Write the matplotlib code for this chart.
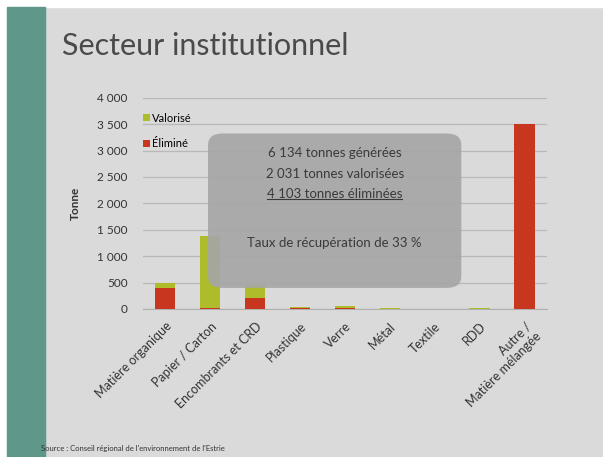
import matplotlib.pyplot as plt
import numpy as np
from matplotlib.patches import Rectangle, FancyBboxPatch

# values (tonnes)
categories = ["Matière organique", "Papier / Carton", "Encombrants et CRD", "Plastique",
              "Verre", "Métal", "Textile", "RDD", "Autre /\nMatière mélangée"]
elimine = [390, 20, 200, 10, 15, 8, 3, 5, 3510]
valorise = [100, 1360, 250, 25, 40, 15, 2, 5, 0]
yticks = [0, 500, 1000, 1500, 2000, 2500, 3000, 3500, 4000]
ytick_labels = ["0", "500", "1 000", "1 500", "2 000", "2 500", "3 000", "3 500", "4 000"]
box_lines = ["6 134 tonnes générées", "2 031 tonnes valorisées", "4 103 tonnes éliminées"]
box_rate = "Taux de récupération de 33 %"

plt.rcParams['font.family'] = ['Lato', 'DejaVu Sans']

fig = plt.figure(figsize=(6.03, 4.57), dpi=100)
fig.patch.set_facecolor('#dadada')

# slide decoration: white frame edge + teal band on the left
fig.patches.append(Rectangle((0, 0.985), 1, 0.015, transform=fig.transFigure,
                             color='white', zorder=0))
fig.patches.append(Rectangle((0, 0), 0.012, 1, transform=fig.transFigure,
                             color='white', zorder=0))
fig.patches.append(Rectangle((0.012, 0), 0.063, 0.985, transform=fig.transFigure,
                             color='#5f978a', zorder=0))

fig.text(0.103, 0.9, "Secteur institutionnel", fontsize=22, color='#4a4a4a',
         va='center', ha='left')
fig.text(0.068, 0.01, "Source : Conseil régional de l'environnement de l'Estrie",
         fontsize=5.5, color='#333333', va='bottom')

ax = fig.add_axes([0.237, 0.324, 0.67, 0.462])
ax.set_facecolor('none')

x = np.arange(len(categories))
ax.bar(x, elimine, width=0.45, color='#c8361f', label='Éliminé', zorder=3)
ax.bar(x, valorise, width=0.45, bottom=elimine, color='#aebb2a', label='Valorisé', zorder=3)

ax.set_xlim(-0.5, len(categories) - 0.5)
ax.set_ylim(0, 4000)
ax.set_yticks(yticks)
ax.set_yticklabels(ytick_labels, fontsize=8.5, color='#333333')
ax.set_xticks(x)
ax.set_xticklabels(categories, rotation=45, ha='right', rotation_mode='anchor',
                   fontsize=9, color='#333333')
ax.tick_params(axis='y', length=0, pad=11)
ax.tick_params(axis='x', length=0, pad=8)
ax.grid(axis='y', color='#b8b8b8', linewidth=0.9, zorder=0)
for s in ['top', 'right', 'left']:
    ax.spines[s].set_visible(False)
ax.spines['bottom'].set_color('#b0b0b0')
ax.set_ylabel("Tonne", fontsize=8.5, fontweight='bold', color='#333333', labelpad=12)

h, l = ax.get_legend_handles_labels()
ax.legend(h[::-1], l[::-1], loc='upper left', bbox_to_anchor=(-0.01, 0.95),
          frameon=False, fontsize=8, handlelength=0.6, handleheight=0.6,
          handletextpad=0.2, labelspacing=1.3, borderaxespad=0)

# grey summary box on top of the chart
fig.patches.append(FancyBboxPatch((0.345, 0.37), 0.42, 0.338, transform=fig.transFigure,
                                  boxstyle='round,pad=0,rounding_size=0.025',
                                  facecolor='#a6a6a6', edgecolor='none', alpha=0.92,
                                  zorder=5))
cx = 0.555
for i, line in enumerate(box_lines):
    t = fig.text(cx, 0.665 - i * 0.045, line, fontsize=9.5, color='#3a3a3a',
                 ha='center', va='center', zorder=6)
fig.text(cx, 0.468, box_rate, fontsize=9.5, color='#3a3a3a', ha='center',
         va='center', zorder=6)

# underline the last line of the box
fig.canvas.draw()
bb = t.get_window_extent().transformed(fig.transFigure.inverted())
fig.add_artist(plt.Line2D([bb.x0, bb.x1], [bb.y0 + 0.003, bb.y0 + 0.003],
                          transform=fig.transFigure, color='#3a3a3a',
                          linewidth=0.8, zorder=6))

fig.savefig("out.png", dpi=100, facecolor=fig.get_facecolor())
